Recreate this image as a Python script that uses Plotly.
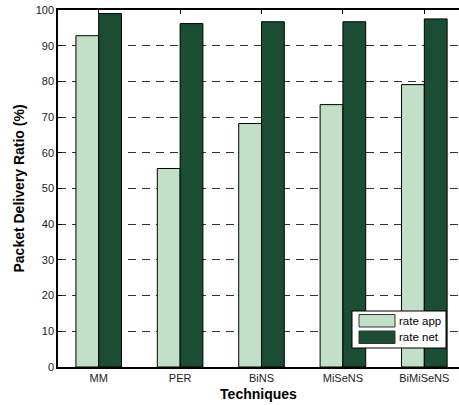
import plotly.graph_objects as go

categories = ["MM", "PER", "BiNS", "MiSeNS", "BiMiSeNS"]
rate_app = [92.8, 55.6, 68.2, 73.5, 79.1]
rate_net = [99.0, 96.2, 96.7, 96.7, 97.5]
series_names = ["rate app", "rate net"]
y_ticks = [0, 10, 20, 30, 40, 50, 60, 70, 80, 90, 100]

LIGHT = "#c2dfc7"
DARK = "#1b4d35"

fig = go.Figure()
fig.add_trace(go.Bar(x=categories, y=rate_app, name=series_names[0], showlegend=False,
                     marker=dict(color=LIGHT, line=dict(color="#000000", width=1))))
fig.add_trace(go.Bar(x=categories, y=rate_net, name=series_names[1], showlegend=False,
                     marker=dict(color=DARK, line=dict(color="#000000", width=1))))

# custom legend (large swatches like the reference)
L, T, PW, PH = 58, 10, 401, 357
def px(xp):
    return (xp - L) / PW
def py(yp):
    return (T + PH - yp) / PH

shapes = [
    dict(type="rect", xref="paper", yref="paper", x0=px(352), x1=px(446), y0=py(348), y1=py(311),
         line=dict(color="black", width=1), fillcolor="white", layer="above"),
    dict(type="rect", xref="paper", yref="paper", x0=px(359), x1=px(395), y0=py(327), y1=py(314.5),
         line=dict(color="#333333", width=1), fillcolor=LIGHT, layer="above"),
    dict(type="rect", xref="paper", yref="paper", x0=px(359), x1=px(395), y0=py(343.5), y1=py(331),
         line=dict(color="#333333", width=1), fillcolor=DARK, layer="above"),
]
annotations = [
    dict(text=series_names[0], xref="paper", yref="paper", x=px(397), y=py(320.5),
         xanchor="left", yanchor="middle", showarrow=False, font=dict(size=11.5, color="#000000")),
    dict(text=series_names[1], xref="paper", yref="paper", x=px(397), y=py(337),
         xanchor="left", yanchor="middle", showarrow=False, font=dict(size=11.5, color="#000000")),
]

fig.update_layout(
    width=459, height=405,
    margin=dict(l=58, r=0, t=10, b=38),
    paper_bgcolor="white", plot_bgcolor="white",
    font=dict(family="Liberation Sans, Arial", size=11, color="#222222"),
    barmode="group", bargap=0.44, bargroupgap=0,
    showlegend=False,
    shapes=shapes, annotations=annotations,
)
fig.update_xaxes(
    type="category", range=[-0.5, 4.426], automargin=False,
    showline=True, linecolor="black", linewidth=1.5, mirror="ticks",
    ticks="inside", ticklen=4, tickcolor="black",
    showgrid=False,
    title=dict(text="<b>Techniques</b>", font=dict(size=14, color="#000000"), standoff=6),
)
fig.update_yaxes(
    range=[0, 100], tickvals=y_ticks, automargin=False,
    showline=True, linecolor="black", linewidth=1.5, mirror=False,
    ticks="inside", ticklen=4, tickcolor="black",
    showgrid=True, gridcolor="#333333", griddash="8px,6px", gridwidth=1,
    zeroline=False,
    title=dict(text="<b>Packet Delivery Ratio (%)</b>", font=dict(size=14, color="#000000"), standoff=8),
)

fig.write_html("out.html", config={"displayModeBar": False},
               post_script="document.body.style.margin='0';document.body.style.overflow='hidden';")
